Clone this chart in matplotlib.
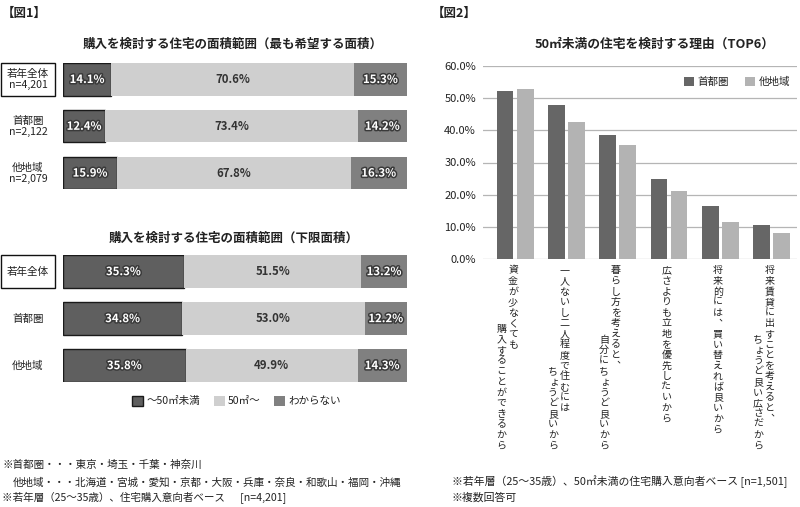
import matplotlib
matplotlib.use("Agg")
import matplotlib.pyplot as plt
import matplotlib.patheffects as pe
from matplotlib.patches import Rectangle
from matplotlib.transforms import blended_transform_factory
from matplotlib import font_manager
from matplotlib.ft2font import FT2Font

plt.rcParams['font.family'] = ['Noto Sans CJK JP', 'DejaVu Sans']

# --- data: figure 1 ---
groups = ["若年全体", "首都圏", "他地域"]
group_n = ["n=4,201", "n=2,122", "n=2,079"]
seg_names = ["～50㎡未満", "50㎡～", "わからない"]
top_under50 = [14.1, 12.4, 15.9]
top_over50 = [70.6, 73.4, 67.8]
top_unknown = [15.3, 14.2, 16.3]
low_under50 = [35.3, 34.8, 35.8]
low_over50 = [51.5, 53.0, 49.9]
low_unknown = [13.2, 12.2, 14.3]

# --- data: figure 2 ---
reasons = [
    ["資金が少なくても", "購入することができるから"],
    ["一人ないし二人程度で住むには", "ちょうど良いから"],
    ["暮らし方を考えると、", "自分にちょうど良いから"],
    ["広さよりも立地を優先したいから"],
    ["将来的には、買い替えれば良いから"],
    ["将来賃貸に出すことを考えると、", "ちょうど良い広さだから"],
]
shutoken = [52.2, 47.7, 38.6, 24.9, 16.6, 10.7]
tachiiki = [52.8, 42.6, 35.3, 21.2, 11.5, 8.0]

W, H = 800, 507
fig = plt.figure(figsize=(W / 100, H / 100), dpi=100)
fig.patch.set_facecolor("white")

c_dark = "#5f5f5f"
c_light = "#cfcfcf"
c_mid = "#808080"
c_text = "#222222"


def px_axes(x0, y0, x1, y1):
    return fig.add_axes([x0 / W, 1 - y1 / H, (x1 - x0) / W, (y1 - y0) / H])


def ftext(x, y, s, **kw):
    return fig.text(x / W, 1 - y / H, s, **kw)


outline = [pe.withStroke(linewidth=2.2, foreground="#3a3a3a")]


def stacked(ax, a, b, c, height, with_n):
    y = list(range(len(groups)))
    left_b = a
    left_c = [p + q for p, q in zip(a, b)]
    r1 = ax.barh(y, a, height=height, color=c_dark, edgecolor="#1a1a1a", linewidth=1.0, label=seg_names[0])
    r2 = ax.barh(y, b, left=left_b, height=height, color=c_light, linewidth=0, label=seg_names[1])
    r3 = ax.barh(y, c, left=left_c, height=height, color=c_mid, linewidth=0, label=seg_names[2])
    for i in y:
        ax.text(a[i] / 2, i, f"{a[i]:.1f}%", ha="center", va="center", fontsize=8.2,
                fontweight="bold", color="white", path_effects=outline)
        ax.text(left_b[i] + b[i] / 2, i, f"{b[i]:.1f}%", ha="center", va="center",
                fontsize=8.2, fontweight="bold", color="#333333")
        ax.text(left_c[i] + c[i] / 2, i, f"{c[i]:.1f}%", ha="center", va="center", fontsize=8.2,
                fontweight="bold", color="white", path_effects=outline)
    ax.set_xlim(0, 100)
    ax.set_ylim(len(groups) - 1 + height / 2, -height / 2)
    ax.axis("off")
    # group labels on the left (344 px per 100 units)
    sc = 100 / 344.0
    for i in y:
        lab = groups[i] + ("\n" + group_n[i] if with_n else "")
        ax.text(-34.7 * sc, i, lab, ha="center", va="center", fontsize=7.6,
                color=c_text, linespacing=1.15, clip_on=False)
    ax.add_patch(Rectangle((-62 * sc, -height / 2), 54 * sc, height, facecolor="white",
                           edgecolor="#111111", linewidth=1.0, clip_on=False, zorder=0))
    return r1, r2, r3


ftext(2, 13, "【図1】", fontsize=9, fontweight="bold", color=c_text, va="center")
ftext(233, 44, "購入を検討する住宅の面積範囲（最も希望する面積）", fontsize=9, fontweight="bold",
      color=c_text, ha="center", va="center")
ax1 = px_axes(62.7, 63.3, 406.7, 189.3)
stacked(ax1, top_under50, top_over50, top_unknown, 0.692, True)

ftext(234, 238, "購入を検討する住宅の面積範囲（下限面積）", fontsize=9, fontweight="bold",
      color=c_text, ha="center", va="center")
ax2 = px_axes(62.7, 255, 406.7, 382.3)
handles = stacked(ax2, low_under50, low_over50, low_unknown, 0.709, False)

fig.legend(handles=handles, labels=seg_names, ncol=3, loc="center left",
           bbox_to_anchor=(132 / W, 1 - 401 / H), frameon=False, fontsize=7.6,
           handlelength=1.05, handleheight=1.05, handletextpad=0.3, columnspacing=1.3,
           borderpad=0, borderaxespad=0, labelcolor=c_text)

notes1 = [
    (2, 465, "※首都圏・・・東京・埼玉・千葉・神奈川"),
    (13, 482, "他地域・・・北海道・宮城・愛知・京都・大阪・兵庫・奈良・和歌山・福岡・沖縄"),
    (2, 498, "※若年層（25～35歳）、住宅購入意向者ベース　  [n=4,201]"),
]
for x, y, s in notes1:
    ftext(x, y, s, fontsize=7.6, color=c_text, va="center")

# --- figure 2 ---
ftext(432, 13, "【図2】", fontsize=9, fontweight="bold", color=c_text, va="center")
ftext(655, 44, "50㎡未満の住宅を検討する理由（TOP6）", fontsize=9.2, fontweight="bold",
      color=c_text, ha="center", va="center")

ax3 = px_axes(483, 65.7, 797, 259.3)
x = list(range(len(reasons)))
bw = 0.327
off = (bw + 0.065) / 2
ax3.bar([i - off for i in x], shutoken, width=bw, color="#666666", label="首都圏", zorder=3)
ax3.bar([i + off for i in x], tachiiki, width=bw, color="#b3b3b3", label="他地域", zorder=3)
ax3.set_ylim(0, 60)
ax3.set_xlim(-0.626, 5.497)
ax3.set_yticks(range(0, 61, 10))
ax3.set_yticklabels([f"{v:.1f}%" for v in range(0, 61, 10)])
ax3.tick_params(axis="y", length=0, pad=5, labelsize=8, labelcolor=c_text)
ax3.set_xticks([])
ax3.grid(axis="y", color="#b5b5b5", linewidth=0.9, zorder=0)
for s in ax3.spines.values():
    s.set_visible(False)
ax3.legend(ncol=2, loc="upper left", bbox_to_anchor=(684 / W, 1 - 77 / H),
           bbox_transform=fig.transFigure, frameon=False, fontsize=7.6,
           handlelength=0.95, handleheight=0.95, handletextpad=0.35, columnspacing=1.5,
           borderpad=0, borderaxespad=0, labelcolor=c_text)

# vertical comma if the font has it
try:
    ft = FT2Font(font_manager.findfont("Noto Sans CJK JP"))
    has_vcomma = ft.get_char_index(0xFE11) != 0
except Exception:
    has_vcomma = False

# vertical category labels, one character per cell
tr = blended_transform_factory(ax3.transData, fig.transFigure)
unit = 51.1  # px per category
pitch = 10.6
fs = 7.2
em = fs * 100 / 72


def vchar(xd, ypx, ch):
    dx = 0.0
    if ch == "、":
        if has_vcomma:
            ch = "\ufe11"
        else:
            dx = 0.5 * em
    elif ch in "ゃゅょっ":
        dx = 0.1 * em
    ax3.text(xd + dx / unit, 1 - ypx / H, ch, transform=tr, ha="center", va="center",
             fontsize=fs, color=c_text, clip_on=False)


for i, lines in enumerate(reasons):
    if len(lines) == 1:
        xd = i - 2.5 / unit
        for j, ch in enumerate(lines[0]):
            vchar(xd, 270.3 + j * pitch, ch)
    else:
        xd = i - 2.0 / unit
        for j, ch in enumerate(lines[0]):
            vchar(xd, 270.3 + j * pitch, ch)
        xd2 = i - 13.5 / unit
        n = len(lines[1])
        for j, ch in enumerate(lines[1]):
            vchar(xd2, 445.5 - (n - 1 - j) * pitch, ch)

ftext(452, 482, "※若年層（25～35歳）、50㎡未満の住宅購入意向者ベース [n=1,501]", fontsize=7.8,
      color=c_text, va="center")
ftext(452, 498, "※複数回答可", fontsize=7.8, color=c_text, va="center")

fig.savefig("out.png", dpi=100)
